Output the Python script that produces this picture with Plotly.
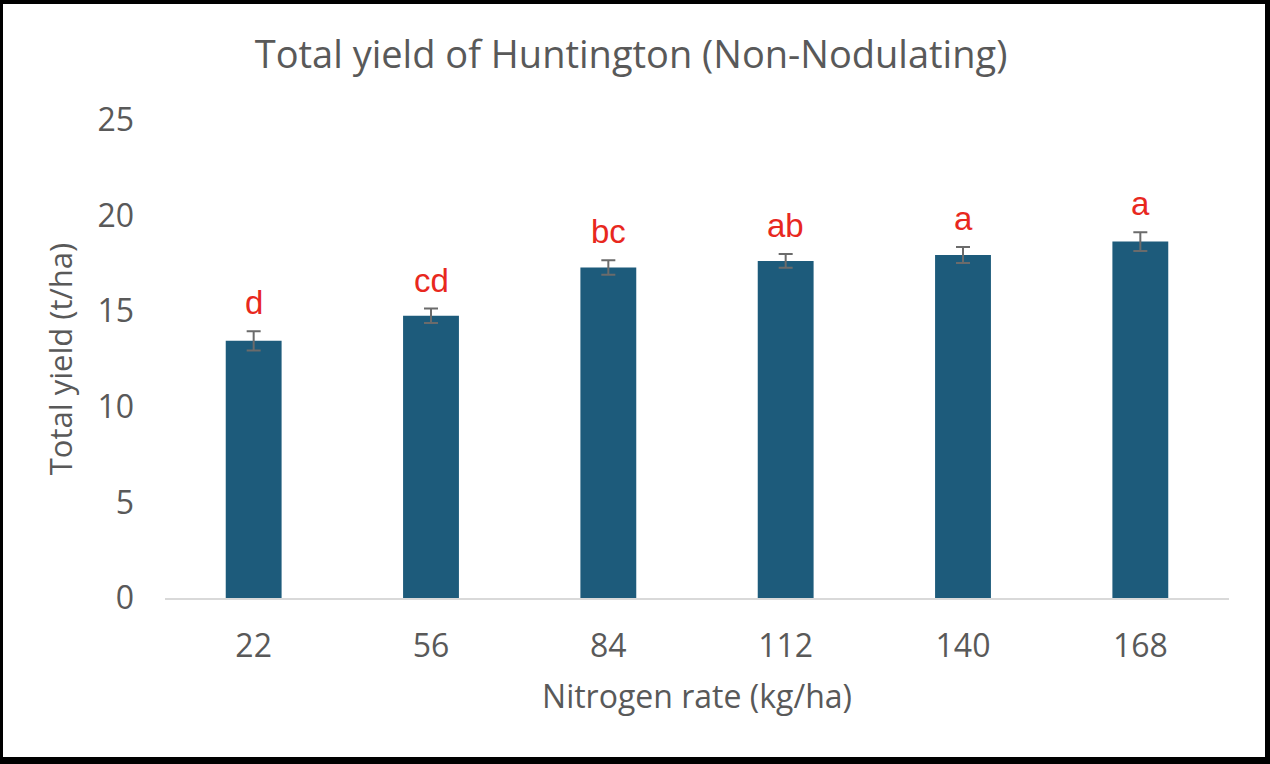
import plotly.graph_objects as go

categories = ["22", "56", "84", "112", "140", "168"]
yield_values = [13.45, 14.76, 17.28, 17.63, 17.94, 18.64]
error_values = [0.5, 0.38, 0.38, 0.36, 0.42, 0.49]
letters = ["d", "cd", "bc", "ab", "a", "a"]
y_ticks = [0, 5, 10, 15, 20, 25]

W, H = 1270, 764
ML, MR, MT, MB = 165, 41, 120, 166
pw, ph = W - ML - MR, H - MT - MB

def px(x):
    return (x - ML) / pw

def py(y):
    return 1 - (y - MT) / ph

FONT = "Open Sans, Lato"
GREY = "#595959"

fig = go.Figure()
fig.add_trace(go.Bar(
    x=categories, y=yield_values,
    marker=dict(color="#1D5B7B", line=dict(width=0)),
    error_y=dict(type="data", array=error_values, visible=True,
                 color="#6b6b6b", thickness=2, width=7),
    width=0.315,
    hoverinfo="skip",
))

for i, (v, e, t) in enumerate(zip(yield_values, error_values, letters)):
    fig.add_annotation(x=i, y=v + e, xref="x", yref="y", text=t, showarrow=False,
                       yanchor="bottom", yshift=8,
                       font=dict(family="Liberation Sans, Arial", size=33, color="#E8281E"))

shapes = []
# outer black frame
for (x0, y0, x1, y1) in [(0, 0, W, 4), (0, 0, 3, H), (W - 5, 0, W, H), (0, H - 7, W, H)]:
    shapes.append(dict(type="rect", xref="paper", yref="paper",
                       x0=px(x0), x1=px(x1), y0=py(y1), y1=py(y0),
                       fillcolor="black", line=dict(width=0), layer="above"))
fig.update_layout(shapes=shapes)

fig.update_layout(
    width=W, height=H,
    margin=dict(l=ML, r=MR, t=MT, b=MB, pad=0),
    paper_bgcolor="white", plot_bgcolor="white",
    showlegend=False,
    title=dict(text="Total yield of Huntington (Non-Nodulating)",
               x=0.438, xanchor="center", y=1 - 55 / H, yanchor="middle",
               xref="paper",
               font=dict(family=FONT, size=38, color=GREY)),
    font=dict(family=FONT, color=GREY),
    xaxis=dict(type="category", range=[-0.5, 5.5], showline=True, linecolor="#D9D9D9",
               linewidth=1.5, ticks="", tickfont=dict(size=32, color=GREY),
               title=dict(text="Nitrogen rate (kg/ha)", standoff=20,
                          font=dict(size=32, color=GREY)),
               ticklabelstandoff=19),
    yaxis=dict(range=[0, 25], tickvals=y_ticks, showgrid=False, zeroline=False,
               showline=False, ticks="", tickfont=dict(size=32, color=GREY),
               ticklabelstandoff=30,
               title=dict(text="Total yield (t/ha)", standoff=15,
                          font=dict(size=31, color=GREY))),
)

fig.write_html("out.html", config={"displayModeBar": False},
               post_script="document.body.style.margin='0';document.body.style.overflow='hidden';")
